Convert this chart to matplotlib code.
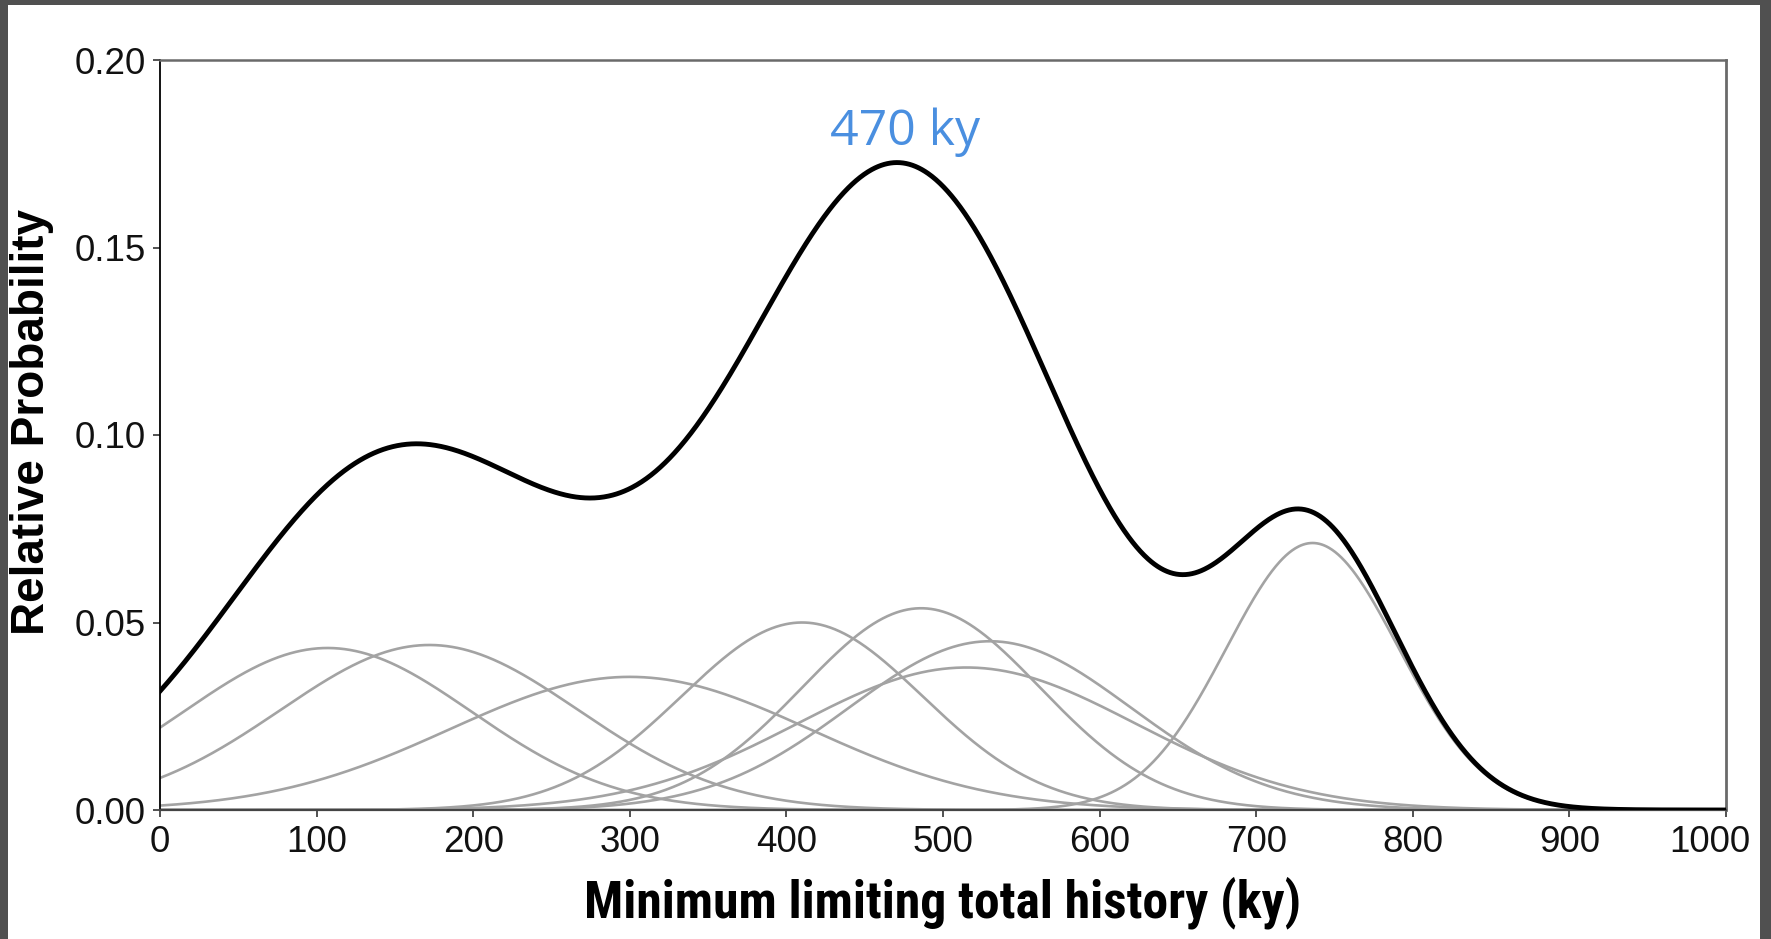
import numpy as np
import matplotlib
matplotlib.use("Agg")
import matplotlib.pyplot as plt
from matplotlib import font_manager as fm
from matplotlib.patches import Rectangle

# Individual age components: centre (ky), spread (ky) and peak relative probability
component_centers = [107, 172, 300, 410, 486, 530, 515, 736]
component_sigmas = [92, 95, 115, 77, 76, 90, 108, 55]
component_peaks = [0.0432, 0.0440, 0.0355, 0.0500, 0.0538, 0.0450, 0.0380, 0.0712]

peak_label = "470 ky"
peak_age = 470

x_ticks = [0, 100, 200, 300, 400, 500, 600, 700, 800, 900, 1000]
y_ticks = [0.00, 0.05, 0.10, 0.15, 0.20]

ages = np.linspace(0, 1000, 2001)
components = [p * np.exp(-0.5 * ((ages - c) / s) ** 2)
              for c, s, p in zip(component_centers, component_sigmas, component_peaks)]
summed = np.sum(components, axis=0)

W, H = 1771, 939
DPI = 100
fig = plt.figure(figsize=(W / DPI, H / DPI), dpi=DPI)
fig.patch.set_facecolor("white")

# dark frame on left, top and right edges
frame_col = "#505050"
fig.add_artist(Rectangle((0, 0), 8 / W, 1, transform=fig.transFigure, color=frame_col, lw=0))
fig.add_artist(Rectangle((0, 1 - 5 / H), 1, 5 / H, transform=fig.transFigure, color=frame_col, lw=0))
fig.add_artist(Rectangle((1 - 11 / W, 0), 11 / W, 1, transform=fig.transFigure, color=frame_col, lw=0))

ax = fig.add_axes([160 / W, 1 - 810 / H, (1726 - 160) / W, (810 - 60) / H])

for comp in components:
    ax.plot(ages, comp, color="#a3a3a3", lw=1.9, zorder=2)
ax.plot(ages, summed, color="black", lw=3.5, solid_joinstyle="round", zorder=3)

ax.set_xlim(0, 1000)
ax.set_ylim(0, 0.20)
ax.set_xticks(x_ticks)
ax.set_yticks(y_ticks)
ax.set_yticklabels([f"{v:.2f}" for v in y_ticks])
# the last x label is drawn separately so that it stays inside the frame
ax.set_xticklabels([str(v) for v in x_ticks[:-1]] + [""])

sans = ["Liberation Sans", "Arial", "DejaVu Sans"]
TICK_SIZE = 26.5
for lab in ax.get_xticklabels() + ax.get_yticklabels():
    lab.set_fontfamily(sans)
    lab.set_fontsize(TICK_SIZE)
    lab.set_color("#111111")

TICK_LEN_PX, XPAD_PT = 7, 6
ax.tick_params(axis="both", direction="out", length=TICK_LEN_PX * 72 / DPI, width=1.2, color="#333333")
ax.tick_params(axis="x", pad=XPAD_PT)
ax.tick_params(axis="y", pad=5)

ax.annotate(str(x_ticks[-1]), xy=(x_ticks[-1], 0), xycoords=("data", "axes fraction"),
            xytext=(-16 * 72 / DPI, -(TICK_LEN_PX * 72 / DPI + XPAD_PT)),
            textcoords="offset points", ha="center", va="top",
            family=sans, fontsize=TICK_SIZE, color="#111111")

ax.spines["left"].set_color("black")
ax.spines["left"].set_linewidth(1.3)
ax.spines["bottom"].set_color("#444444")
ax.spines["bottom"].set_linewidth(1.6)
ax.spines["top"].set_color("#6a6a6a")
ax.spines["top"].set_linewidth(1.8)
ax.spines["right"].set_color("#6a6a6a")
ax.spines["right"].set_linewidth(2.0)

# narrow bold face for the x title when one is installed, otherwise plain bold
preferred = ["Liberation Sans Narrow", "Arial Narrow", "Nimbus Sans Narrow",
             "Roboto Condensed", "DejaVu Sans Condensed"]
xprops = None
for name in preferred:
    hits = [f for f in fm.fontManager.ttflist
            if f.name == name and f.weight in ("bold", 700) and f.style == "normal"]
    if hits:
        xprops = fm.FontProperties(fname=hits[0].fname, size=37)
        break
if xprops is None:
    xprops = fm.FontProperties(family=sans, weight="bold", size=37)

xlabel = ax.set_xlabel("Minimum limiting total history (ky)", fontproperties=xprops)
xlabel.set_va("baseline")
ax.xaxis.set_label_coords(0.5, (810 - 917) / 750)

# size the x title to its measured span
renderer = fig.canvas.get_renderer()
target_w = 718
w = xlabel.get_window_extent(renderer).width
xlabel.set_fontsize(37 * target_w / w)

ax.set_ylabel("Relative Probability", family=sans, fontweight="bold", fontsize=33)
ax.yaxis.set_label_coords((54 - 160) / 1566, 0.517)

ax.text(peak_age + 6, 0.1773, peak_label, color="#4a8fe0",
        family=["Open Sans", "Noto Sans", "DejaVu Sans"], fontsize=36,
        ha="center", va="baseline")

fig.savefig("out.png", dpi=DPI, facecolor=fig.get_facecolor())
